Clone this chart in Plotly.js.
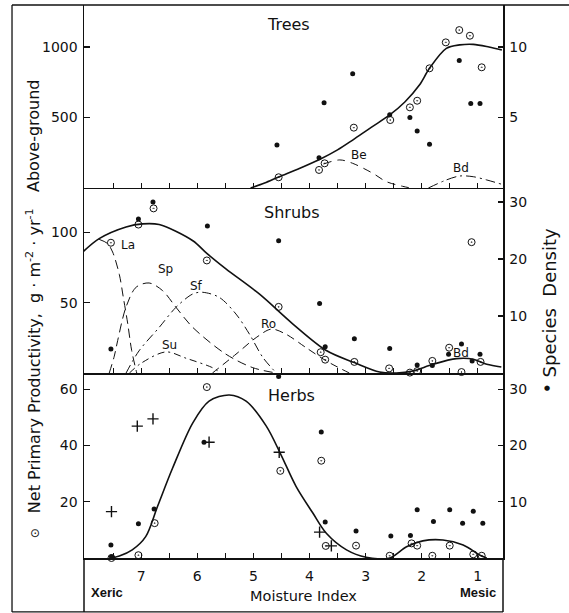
<!DOCTYPE html>
<html>
<head>
<meta charset="utf-8">
<script src="https://cdn.plot.ly/plotly-3.0.1.min.js"></script>
<style>html,body{margin:0;padding:0;background:#fff;}#chart{width:569px;height:613px;}</style>
</head>
<body>
<div id="chart"></div>
<script>
// ---------- X axis ----------
const xTickVals = [7, 6, 5, 4, 3, 2, 1];
const xTickText = ['7', '6', '5', '4', '3', '2', '1'];
const xMinorVals = [7.5, 6.5, 5.5, 4.5, 3.5, 2.5, 1.5];

// ---------- Trees ----------
const treesProdX = [4.55, 3.83, 3.73, 3.21, 2.56, 2.21, 2.08, 1.86, 1.57, 1.33, 1.14, 0.93];
const treesProdY = [76, 128, 175, 428, 482, 572, 619, 849, 1033, 1120, 1080, 856];
const treesDensX = [4.58, 3.83, 3.74, 3.23, 2.57, 2.21, 2.08, 1.86, 1.33, 1.125, 0.96];
const treesDensY = [3.05, 2.15, 6.05, 8.1, 5.2, 5.0, 4.05, 3.1, 9.05, 6.0, 6.0];
const treesCurveX = [5.05, 4.8, 4.55, 4.2, 3.83, 3.5, 3.23, 2.9, 2.57, 2.3, 2.04, 1.86, 1.56, 1.32, 1.08, 0.8, 0.57];
const treesCurveY = [0, 35, 78, 135, 200, 270, 340, 430, 518, 610, 730, 849, 990, 1015, 1019, 1000, 979];
const beX = [3.75, 3.46, 3.23, 2.87, 2.63, 2.34, 2.2];
const beY = [170, 199, 175, 104, 45, 12, 0];
const bdX = [1.88, 1.56, 1.32, 1.08, 0.84, 0.57];
const bdY = [0, 57, 85, 80, 57, 26];

// ---------- Shrubs ----------
const shrubProdX = [7.54, 7.05, 6.78, 5.83, 4.55, 3.80, 3.72, 3.20, 2.58, 2.21, 2.08, 1.81, 1.51, 1.29, 1.11, 0.95];
const shrubProdY = [92.6, 105.5, 117, 80, 47, 14.8, 9.5, 7.9, 3.3, 0.3, 1.4, 8.6, 18, 0.7, 93, 7.9];
const shrubDensX = [7.54, 7.05, 6.79, 5.82, 4.55, 3.82, 3.72, 3.20, 2.57, 2.08, 1.81, 1.52, 1.29, 1.10, 0.96];
const shrubDensY = [4.2, 27.0, 30.0, 25.8, 23.2, 12.2, 4.6, 6.0, 4.3, 1.4, 1.3, 3.3, 5.1, 2.1, 3.3];
const shrubCurveX = [8.04, 7.75, 7.27, 6.98, 6.68, 6.08, 5.83, 5.49, 4.89, 4.30, 3.70, 3.20, 2.75, 2.45, 2.16, 1.80, 1.38, 1.08, 0.84, 0.58];
const shrubCurveY = [86, 95.5, 103.8, 106, 105.5, 94, 85, 74, 56, 35, 16, 7.4, 0.7, 0, 1.4, 6.2, 10.2, 9.8, 6.2, 4.3];
const laX = [7.75, 7.6, 7.51, 7.39, 7.32, 7.24, 7.17, 7.08];
const laY = [95, 92, 86, 70, 54, 35, 16, 0];
const spX = [7.57, 7.48, 7.42, 7.27, 7.09, 6.86, 6.62, 6.38, 6.08, 5.49, 5.01, 4.59];
const spY = [0, 12, 23, 47, 61, 64, 58.6, 46.7, 32.4, 13.4, 3.8, 0];
const sfX = [7.27, 7.04, 6.68, 6.38, 6.08, 5.91, 5.61, 5.31, 5.07, 4.83, 4.59];
const sfY = [0, 15.7, 32.4, 46.7, 56.2, 57.4, 53.8, 41.9, 27.6, 11, 0];
const suX = [7.21, 7.0, 6.56, 6.2, 5.73, 5.58];
const suY = [0, 7, 15, 10.5, 3.8, 0];
const roX = [5.73, 5.31, 4.95, 4.68, 4.42, 4.06, 3.70, 3.29];
const roY = [0, 13.4, 25.2, 31.2, 27.6, 18, 8.6, 0];

// ---------- Herbs ----------
const herbProdX = [7.53, 7.05, 6.76, 5.83, 4.52, 3.79, 3.71, 3.17, 2.57, 2.18, 2.08, 1.81, 1.50, 1.08, 0.93];
const herbProdY = [0, 1.0, 12.4, 60.8, 31, 34.6, 4.3, 4.4, 0.8, 5.2, 4.4, 0.8, 4.4, 1.3, 0.8];
const herbDensX = [7.54, 7.53, 7.05, 6.77, 5.88, 4.55, 3.79, 3.72, 3.17, 2.55, 2.20, 2.08, 1.79, 1.50, 1.27, 1.08, 0.91];
const herbDensY = [2.3, 0.2, 6.1, 8.7, 20.6, 32.3, 22.4, 6.4, 4.8, 3.9, 4.0, 8.6, 6.5, 8.6, 6.2, 8.3, 6.2];
const herbPlusX = [7.53, 7.07, 6.79, 5.79, 4.54, 3.82, 3.61];
const herbPlusY = [16.5, 46.9, 49.5, 41.2, 37.6, 9.2, 4.3];
const herbCurveX = [7.54, 7.39, 7.16, 6.92, 6.71, 6.44, 6.08, 5.79, 5.43, 5.13, 4.77, 4.51, 4.24, 3.94, 3.70, 3.34, 2.99, 2.57, 2.27, 1.98, 1.62, 1.26, 0.96, 0.84];
const herbCurveY = [0, 0.7, 2.9, 7.6, 18.3, 32, 48.1, 55.8, 58, 55.8, 46.9, 36.8, 25.5, 16, 8.8, 2.9, 0.3, 0, 4, 6.1, 6.4, 4.6, 1, 0];

// ---------- styles ----------
const INK = '#111';
const FONT = 'DejaVu Sans, sans-serif';
const openM = {symbol: 'circle-open-dot', size: 7, color: INK, line: {color: INK, width: 1}};
const dotM = {symbol: 'circle', size: 5, color: INK};
const plusM = {symbol: 'cross-thin-open', size: 8, color: INK, line: {color: INK, width: 1.4}};
function pts(x, y, xa, ya, m) { return {x, y, xaxis: xa, yaxis: ya, type: 'scatter', mode: 'markers', marker: m, cliponaxis: false, hoverinfo: 'skip'}; }
function crv(x, y, xa, ya, w, dash) { return {x, y, xaxis: xa, yaxis: ya, type: 'scatter', mode: 'lines', line: {color: INK, width: w, dash: dash, shape: 'spline', smoothing: 0.9}, hoverinfo: 'skip'}; }

const data = [
  // trees
  crv(treesCurveX, treesCurveY, 'x3', 'y3', 1.6, 'solid'),
  crv(beX, beY, 'x3', 'y3', 1, '8px,6px'),
  crv(bdX, bdY, 'x3', 'y3', 1, '10px,4px,2px,4px'),
  pts(treesProdX, treesProdY, 'x3', 'y3', openM),
  pts(treesDensX, treesDensY, 'x3', 'y6', dotM),
  // shrubs
  crv(shrubCurveX, shrubCurveY, 'x2', 'y2', 1.6, 'solid'),
  crv(laX, laY, 'x2', 'y2', 1, '9px,5px'),
  crv(spX, spY, 'x2', 'y2', 1, '9px,5px'),
  crv(sfX, sfY, 'x2', 'y2', 1, '9px,4px,2px,4px'),
  crv(suX, suY, 'x2', 'y2', 1, '7px,4px,2px,4px'),
  crv(roX, roY, 'x2', 'y2', 1, '8px,5px'),
  pts(shrubProdX, shrubProdY, 'x2', 'y2', openM),
  pts(shrubDensX, shrubDensY, 'x2', 'y5', dotM),
  // herbs
  crv(herbCurveX, herbCurveY, 'x', 'y', 1.6, 'solid'),
  pts(herbProdX, herbProdY, 'x', 'y', openM),
  pts(herbPlusX, herbPlusY, 'x', 'y', plusM),
  pts(herbDensX, herbDensY, 'x', 'y4', dotM)
];

const tickFont = {family: FONT, size: 14, color: INK};
const xRange = [8.02, 0.55];
function xa(anchor, labels) {
  return {anchor, range: xRange, tickmode: 'array', tickvals: xTickVals, ticktext: xTickText, showticklabels: labels,
    ticks: 'inside', ticklen: 5, tickwidth: 1.2, tickcolor: INK, showline: true, linecolor: INK, linewidth: 1.5,
    minor: {tickmode: 'array', tickvals: xMinorVals, ticks: 'inside', ticklen: 5, tickwidth: 1.2, tickcolor: INK, showgrid: false},
    showgrid: false, zeroline: false, tickfont: tickFont, ticklabelstandoff: 5, fixedrange: true};
}
function yl(domain, range, vals) {
  return {domain, range, tickvals: vals, ticks: 'inside', ticklen: 6, tickwidth: 1.2, tickcolor: INK,
    showline: true, linecolor: INK, linewidth: 1.5, showgrid: false, zeroline: false, tickfont: tickFont,
    ticklabelstandoff: 2, side: 'left'};
}
function yr(over, anchor, range, vals) {
  return {overlaying: over, anchor, side: 'right', range, tickvals: vals, ticks: 'inside', ticklen: 5, tickwidth: 1.2,
    tickcolor: INK, showline: true, linecolor: INK, linewidth: 1.5, showgrid: false, zeroline: false,
    tickfont: tickFont, ticklabelstandoff: 2};
}
const dH = [0, 0.3345], dS = [0.3345, 0.6691], dT = [0.6691, 1];

const ann = [];
function A(text, x, y, opt) { ann.push(Object.assign({text, x, y, xref: 'paper', yref: 'paper', xanchor: 'center', yanchor: 'middle', showarrow: false, font: {family: FONT, size: 16, color: INK}}, opt || {})); }
A('Trees', 0.489, 0.964);
A('Shrubs', 0.496, 0.624);
A('Herbs', 0.496, 0.293);
A('Moisture Index', 0.525, -0.0687, {font: {family: FONT, size: 14.5, color: INK}});
A('<b>Xeric</b>', 0.055, -0.0615, {font: {family: 'Liberation Sans, sans-serif', size: 13, color: INK}});
A('<b>Mesic</b>', 0.940, -0.0615, {font: {family: 'Liberation Sans, sans-serif', size: 13, color: INK}});
A('Above-ground', -0.1217, 0.763, {textangle: -90});
A('Net Primary Productivity,  g · m<sup>-2</sup> · yr<sup>-1</sup>', -0.1217, 0.356, {textangle: -90});
A('Species  Density', 1.112, 0.462, {textangle: -90, font: {family: FONT, size: 18, color: INK}});
A('⊙', -0.117, 0.045, {font: {family: FONT, size: 12, color: INK}});
A('●', 1.105, 0.307, {font: {family: FONT, size: 7, color: INK}});
// curve labels (data coordinates)
function L(text, x, y, xr, yrf) { ann.push({text, x, y, xref: xr, yref: yrf, xanchor: 'center', yanchor: 'middle', showarrow: false, font: {family: FONT, size: 12, color: INK}}); }
L('Be', 3.11, 234, 'x3', 'y3');
L('Bd', 1.29, 142, 'x3', 'y3');
L('La', 7.24, 91, 'x2', 'y2');
L('Sp', 6.56, 74, 'x2', 'y2');
L('Sf', 6.02, 62, 'x2', 'y2');
L('Su', 6.5, 20, 'x2', 'y2');
L('Ro', 4.73, 35, 'x2', 'y2');
L('Bd', 1.29, 14, 'x2', 'y2');

const frame = {color: INK, width: 1.3};
const yBot = -0.0976, xLeft = -0.1718;
const shapes = [
  {type: 'line', xref: 'paper', yref: 'paper', x0: xLeft, x1: xLeft, y0: yBot, y1: 1, line: frame},
  {type: 'line', xref: 'paper', yref: 'paper', x0: xLeft, x1: 1.1575, y0: 1, y1: 1, line: frame},
  {type: 'line', xref: 'paper', yref: 'paper', x0: xLeft, x1: 1, y0: yBot, y1: yBot, line: frame},
  {type: 'line', xref: 'paper', yref: 'paper', x0: 0, x1: 0, y0: yBot, y1: 0, line: {color: INK, width: 1.5}},
  {type: 'line', xref: 'paper', yref: 'paper', x0: 1, x1: 1, y0: yBot, y1: 0, line: {color: INK, width: 1.5}}
];

const layout = {
  width: 569, height: 613,
  margin: {l: 84, r: 66, t: 5, b: 55, pad: 0},
  paper_bgcolor: '#fff', plot_bgcolor: '#fff',
  showlegend: false,
  font: {family: FONT, color: INK},
  xaxis: xa('y', true),
  xaxis2: Object.assign(xa('y2', false), {matches: 'x'}),
  xaxis3: Object.assign(xa('y3', false), {matches: 'x'}),
  yaxis: yl(dH, [0, 65.8], [20, 40, 60]),
  yaxis2: yl(dS, [0, 131.5], [50, 100]),
  yaxis3: yl(dT, [0, 1298], [500, 1000]),
  yaxis4: yr('y', 'x', [0, 32.9], [10, 20, 30]),
  yaxis5: yr('y2', 'x2', [0, 32.45], [10, 20, 30]),
  yaxis6: yr('y3', 'x3', [0, 12.98], [5, 10]),
  annotations: ann,
  shapes: shapes
};

Plotly.newPlot('chart', data, layout, {displayModeBar: false, staticPlot: true});
</script>
</body>
</html>
